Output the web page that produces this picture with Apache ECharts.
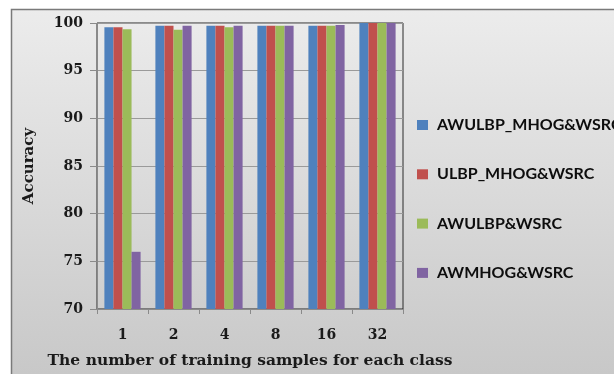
<!DOCTYPE html>
<html>
<head>
<meta charset="utf-8">
<script src="https://cdn.jsdelivr.net/npm/echarts@6/dist/echarts.min.js"></script>
<style>
  html, body { margin: 0; padding: 0; background: #ffffff; }
  #chart { width: 614px; height: 374px; }
</style>
</head>
<body>
<div id="chart"></div>
<script>
// Training samples per class
const categories = ['1', '2', '4', '8', '16', '32'];

// Recognition accuracy (%) per method
const awulbpMhogWsrc = [99.55, 99.7, 99.7, 99.7, 99.7, 100];
const ulbpMhogWsrc   = [99.55, 99.7, 99.7, 99.7, 99.7, 100];
const awulbpWsrc     = [99.35, 99.3, 99.55, 99.7, 99.7, 100];
const awmhogWsrc     = [76.0, 99.7, 99.7, 99.7, 99.8, 100];

const seriesNames = ['AWULBP_MHOG&WSRC', 'ULBP_MHOG&WSRC', 'AWULBP&WSRC', 'AWMHOG&WSRC'];
const seriesData = [awulbpMhogWsrc, ulbpMhogWsrc, awulbpWsrc, awmhogWsrc];
const colors = ['#4f81bd', '#c0504d', '#9bbb59', '#8064a2'];

const serifBold = { fontFamily: 'DejaVu Serif', fontWeight: 'bold', color: '#1a1a1a' };

const chart = echarts.init(document.getElementById('chart'), null, { renderer: 'canvas' });

chart.setOption({
  animation: false,
  color: colors,
  graphic: [{
    type: 'rect',
    z: -10,
    silent: true,
    shape: { x: 11.5, y: 9.5, width: 700, height: 400 },
    style: {
      fill: new echarts.graphic.LinearGradient(0, 0, 0, 1, [
        { offset: 0, color: '#ececec' },
        { offset: 0.91, color: '#c8c8c8' },
        { offset: 1, color: '#c4c4c4' }
      ]),
      stroke: '#7a7a7a',
      lineWidth: 1.5
    }
  }],
  grid: {
    left: 97, right: 211, top: 23, bottom: 63,
    show: true,
    borderColor: '#2b2b2b',
    borderWidth: 1,
    backgroundColor: 'transparent'
  },
  legend: {
    orient: 'vertical',
    left: 412,
    top: 110,
    itemWidth: 11,
    itemHeight: 10,
    itemGap: 29.3,
    icon: 'rect',
    data: seriesNames,
    textStyle: {
      fontFamily: 'Lato',
      fontWeight: 'bold',
      fontSize: 16,
      color: '#0d0d0d',
      lineHeight: 20,
      padding: [0, 0, 0, 4]
    }
  },
  xAxis: {
    type: 'category',
    data: categories,
    name: 'The number of training samples for each class',
    nameLocation: 'middle',
    nameGap: 44,
    nameTextStyle: Object.assign({ fontSize: 15.5 }, serifBold),
    axisLine: { lineStyle: { color: '#8a8a8a', width: 1 } },
    axisTick: { show: true, length: 5, interval: 0, lineStyle: { color: '#8a8a8a' } },
    axisLabel: Object.assign({ fontSize: 14, margin: 19 }, serifBold)
  },
  yAxis: {
    type: 'value',
    min: 70,
    max: 100,
    interval: 5,
    name: 'Accuracy',
    nameLocation: 'middle',
    nameGap: 60,
    nameTextStyle: Object.assign({ fontSize: 15 }, serifBold),
    axisLine: { show: true, lineStyle: { color: '#8a8a8a', width: 1 } },
    axisTick: { show: true, length: 7, lineStyle: { color: '#8a8a8a' } },
    axisLabel: Object.assign({ fontSize: 14, margin: 14 }, serifBold),
    splitLine: { lineStyle: { color: '#9a9a9a', width: 1 } }
  },
  series: seriesNames.map((name, i) => ({
    name: name,
    type: 'bar',
    data: seriesData[i],
    barGap: 0,
    barCategoryGap: '29%',
    itemStyle: { color: colors[i] }
  }))
});
</script>
</body>
</html>
